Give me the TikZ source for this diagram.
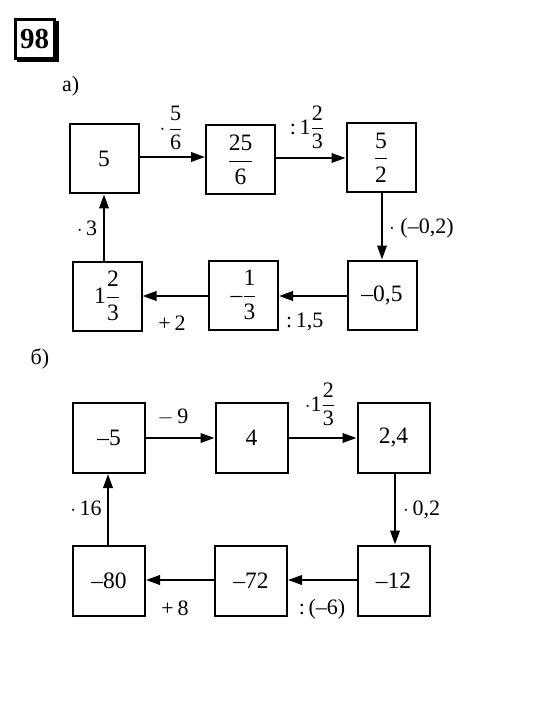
\documentclass[tikz,border=0pt]{standalone}
\usepackage{amsmath}
\usepackage{fontspec}
\setmainfont{Liberation Serif}
\usetikzlibrary{arrows.meta}
\newcommand\fr[2]{\dfrac{\text{#1}}{\text{#2}}}
\newcommand\mn{–}
\tikzset{
  bx/.style={draw, line width=2pt, minimum width=69pt, minimum height=69pt, inner sep=0pt, font=\fontsize{23.5}{26}\selectfont},
  bxb/.style={bx, minimum width=72pt, minimum height=70pt},
  arr/.style={line width=2pt, -{Triangle[length=14pt,width=9.5pt]}},
  lab/.style={inner sep=0pt, font=\fontsize{22}{26}\selectfont},
}
\begin{document}
\begin{tikzpicture}[x=1pt,y=-1pt]
\useasboundingbox[fill=white] (0,0) rectangle (550,711);
% number badge
\draw[line width=3pt] (15.5,19.5) rectangle (54,59);
\fill (54,21) rectangle (58.5,62.5);
\fill (17,58) rectangle (58.5,62.5);
\node[inner sep=0pt, font=\bfseries\fontsize{29}{30}\selectfont] (num) at (34.5,39.5) {98};
% part a
\node[lab, anchor=west] (pa) at (62,86) {а)};
\node[bx] (a1) at (104,159) {5};
\node[bx] (a2) at (240.5,160) {$\fr{25}{6}$};
\node[bx] (a3) at (381,157.5) {$\fr{5}{2}$};
\node[bx] (a4) at (382,295) {\mn0,5};
\node[bx] (a5) at (243.5,295) {\mn$\fr{1}{3}$};
\node[bx] (a6) at (107,296) {1$\fr{2}{3}$};
\draw[arr] (a1.east |- 0,157) -- (a2.west |- 0,157);
\draw[arr] (a2.east |- 0,158) -- (a3.west |- 0,158);
\draw[arr] (a3.south -| 382,0) -- (a4.north -| 382,0);
\draw[arr] (a4.west |- 0,296) -- (a5.east |- 0,296);
\draw[arr] (a5.west |- 0,296) -- (a6.east |- 0,296);
\draw[arr] (a6.north -| 104,0) -- (a1.south -| 104,0);
\node[lab] (la1) at (171,128) {$\cdot\,\fr{5}{6}$};
\node[lab] (la2) at (307,127) {:\,1$\fr{2}{3}$};
\node[lab, anchor=west] (la3) at (389,228) {$\cdot$ (\mn0,2)};
\node[lab, anchor=west] (la4) at (286,322) {:\,1,5};
\node[lab] (la5) at (172,323) {+\,2};
\node[lab] (la6) at (87,228) {$\cdot$\,3};
% part b
\node[lab] (pb) at (40,359) {б)};
\node[bxb] (b1) at (109,438) {\mn5};
\node[bxb] (b2) at (251.5,438) {4};
\node[bxb] (b3) at (393.5,438) {2,4};
\node[bxb] (b4) at (393.5,580.5) {\mn12};
\node[bxb] (b5) at (251,580.5) {\mn72};
\node[bxb] (b6) at (109,580.5) {\mn80};
\draw[arr] (b1.east |- 0,438) -- (b2.west |- 0,438);
\draw[arr] (b2.east |- 0,438) -- (b3.west |- 0,438);
\draw[arr] (b3.south -| 395,0) -- (b4.north -| 395,0);
\draw[arr] (b4.west |- 0,580) -- (b5.east |- 0,580);
\draw[arr] (b5.west |- 0,580) -- (b6.east |- 0,580);
\draw[arr] (b6.north -| 108,0) -- (b1.south -| 108,0);
\node[lab] (lb1) at (173,417) {$-$\,9};
\node[lab] (lb2) at (320,404) {$\cdot$1$\fr{2}{3}$};
\node[lab, anchor=west] (lb3) at (403,510) {$\cdot$\,0,2};
\node[lab] (lb4) at (322,609) {:\,(\mn6)};
\node[lab] (lb5) at (175,608) {+\,8};
\node[lab] (lb6) at (86,508) {$\cdot$\,16};
\end{tikzpicture}
\end{document}
